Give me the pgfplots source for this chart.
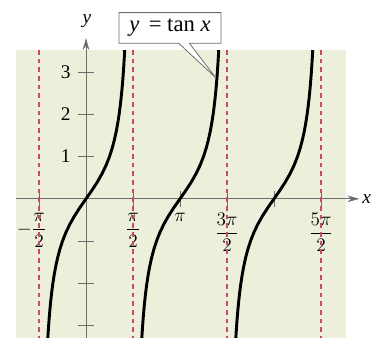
\documentclass[border=0pt]{standalone}
\usepackage{amsmath}
\usepackage{pgfplots}
\pgfplotsset{compat=1.18}
\usepackage{fontspec}
\setmainfont{Liberation Serif}
\usetikzlibrary{arrows.meta,shapes.callouts}
\definecolor{bgcol}{RGB}{236,240,219}
\definecolor{dashcol}{RGB}{200,73,110}
\definecolor{axcol}{RGB}{110,110,110}
\newcommand{\fs}{\fontsize{14.5}{16}\selectfont}
\newcommand{\fb}{\fontsize{17}{19}\selectfont}
\begin{document}
\begin{tikzpicture}
\begin{axis}[
  x=22.44pt, y=31.7pt,
  xmin=-2.34, xmax=8.69, ymin=-3.29, ymax=3.52,
  axis lines=middle,
  axis background/.style={fill=bgcol},
  axis line style={axcol, line width=0.6pt, -{Stealth[length=9pt,width=5pt]}},
  x axis line style={shorten >=-10pt},
  y axis line style={shorten >=-9pt},
  tick align=center,
  major tick length=12pt,
  tick style={axcol, line width=0.6pt},
  xtick={-1.5708,1.5708,3.1416,4.7124,6.2832,7.8540},
  xticklabels={$\llap{$-$}\dfrac{\pi}{2}$, $\dfrac{\pi}{2}$, $\pi$, $\dfrac{3\pi}{2}$, {}, $\dfrac{5\pi}{2}$},
  ytick={-3,-2,-1,1,2,3},
  yticklabels={,,,1,2,3},
  xticklabel style={font=\fs, anchor=north, yshift=-3pt, fill=bgcol, inner sep=1.5pt},
  yticklabel style={font=\fs, anchor=east, xshift=-2pt},
]
\addplot[dashcol, line width=0.8pt, dash pattern=on 3.5pt off 3pt] coordinates {(-1.5708,3.52) (-1.5708,-3.29)};
\addplot[dashcol, line width=0.8pt, dash pattern=on 3.5pt off 3pt] coordinates {(1.5708,3.52) (1.5708,-3.29)};
\addplot[dashcol, line width=0.8pt, dash pattern=on 3.5pt off 3pt] coordinates {(4.7124,3.52) (4.7124,-3.29)};
\addplot[dashcol, line width=0.8pt, dash pattern=on 3.5pt off 3pt] coordinates {(7.8540,3.52) (7.8540,-3.29)};
% branch 1
\addplot[black, line width=2.2pt, line join=round] coordinates {
(-1.2998,-3.6) (-1.2847,-3.4) (-1.2679,-3.2) (-1.2490,-3.0) (-1.2278,-2.8) (-1.2036,-2.6)
(-1.1760,-2.4) (-1.1442,-2.2) (-1.1071,-2.0) (-1.0637,-1.8) (-1.0122,-1.6) (-0.9505,-1.4)
(-0.8761,-1.2) (-0.7854,-1.0) (-0.6747,-0.8) (-0.5404,-0.6) (-0.3805,-0.4) (-0.1974,-0.2)
(0,0) (0.1974,0.2) (0.3805,0.4) (0.5404,0.6) (0.6747,0.8) (0.7854,1.0) (0.8761,1.2)
(0.9505,1.4) (1.0122,1.6) (1.0637,1.8) (1.1071,2.0) (1.1442,2.2) (1.1760,2.4) (1.2036,2.6)
(1.2278,2.8) (1.2490,3.0) (1.2679,3.2) (1.2847,3.4) (1.2998,3.6)};
% branch 2
\addplot[black, line width=2.2pt, line join=round] coordinates {
(1.8418,-3.6) (1.8569,-3.4) (1.8737,-3.2) (1.8926,-3.0) (1.9138,-2.8) (1.9380,-2.6)
(1.9656,-2.4) (1.9974,-2.2) (2.0345,-2.0) (2.0779,-1.8) (2.1294,-1.6) (2.1911,-1.4)
(2.2655,-1.2) (2.3562,-1.0) (2.4669,-0.8) (2.6012,-0.6) (2.7611,-0.4) (2.9442,-0.2)
(3.1416,0) (3.3390,0.2) (3.5221,0.4) (3.6820,0.6) (3.8163,0.8) (3.9270,1.0) (4.0177,1.2)
(4.0921,1.4) (4.1538,1.6) (4.2053,1.8) (4.2487,2.0) (4.2858,2.2) (4.3176,2.4) (4.3452,2.6)
(4.3694,2.8) (4.3906,3.0) (4.4095,3.2) (4.4263,3.4) (4.4414,3.6)};
% branch 3
\addplot[black, line width=2.2pt, line join=round] coordinates {
(4.9834,-3.6) (4.9985,-3.4) (5.0153,-3.2) (5.0342,-3.0) (5.0554,-2.8) (5.0796,-2.6)
(5.1072,-2.4) (5.1390,-2.2) (5.1761,-2.0) (5.2195,-1.8) (5.2710,-1.6) (5.3327,-1.4)
(5.4071,-1.2) (5.4978,-1.0) (5.6085,-0.8) (5.7428,-0.6) (5.9027,-0.4) (6.0858,-0.2)
(6.2832,0) (6.4806,0.2) (6.6637,0.4) (6.8236,0.6) (6.9579,0.8) (7.0686,1.0) (7.1593,1.2)
(7.2337,1.4) (7.2954,1.6) (7.3469,1.8) (7.3903,2.0) (7.4274,2.2) (7.4592,2.4) (7.4868,2.6)
(7.5110,2.8) (7.5322,3.0) (7.5511,3.2) (7.5679,3.4) (7.5830,3.6)};
\coordinate (BL) at (axis cs:-2.874,-3.546);
\coordinate (TR) at (axis cs:9.659,4.704);
\coordinate (XL) at (axis cs:9.38,0);
\coordinate (YL) at (axis cs:0.03,4.2);
\coordinate (BOX) at (axis cs:2.807,4.043);
\coordinate (TIP) at (axis cs:4.33,2.87);
\end{axis}
\node[font=\fs] at (XL) {\textit{x}};
\node[font=\fs] at (YL) {\textit{y}};
\node[rectangle callout, draw=axcol, fill=white, line width=0.6pt, font=\fb,
      minimum width=76.5pt, minimum height=23pt, inner sep=2pt,
      callout absolute pointer={(TIP)}, callout pointer width=8pt] at (BOX) {\textit{y}\, = tan \textit{x}};
\pgfresetboundingbox
\path (BL) rectangle (TR);
\end{tikzpicture}
\end{document}
